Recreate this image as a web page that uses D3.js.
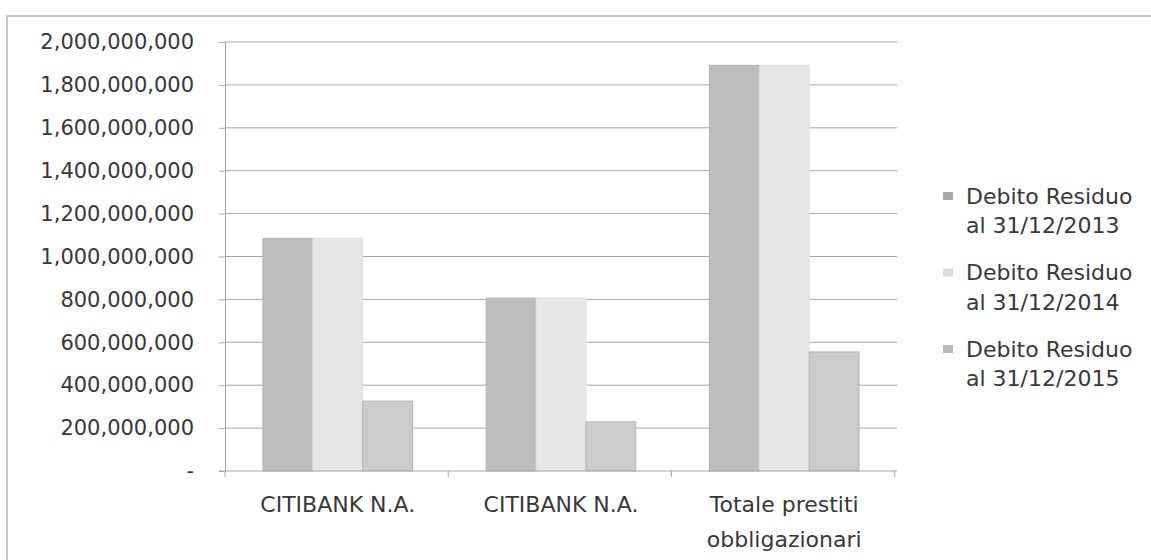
<!DOCTYPE html>
<html>
<head>
<meta charset="utf-8">
<script src="https://cdn.jsdelivr.net/npm/d3@7"></script>
<style>
  body { margin: 0; background: #fff; }
  text { font-family: 'DejaVu Sans', sans-serif; fill: #383838; }
</style>
</head>
<body>
<script>
const width = 1151
const height = 560
const margin = { top: 42, right: 254, bottom: 89, left: 225 }

const categories = [['CITIBANK N.A.'], ['CITIBANK N.A.'], ['Totale prestiti', 'obbligazionari']]
const seriesNames = [['Debito Residuo', 'al 31/12/2013'], ['Debito Residuo', 'al 31/12/2014'], ['Debito Residuo', 'al 31/12/2015']]
const debito2013 = [1085000000, 806000000, 1891000000]
const debito2014 = [1085000000, 806000000, 1891000000]
const debito2015 = [326000000, 229000000, 555000000]
const yTicks = [0, 200000000, 400000000, 600000000, 800000000, 1000000000, 1200000000, 1400000000, 1600000000, 1800000000, 2000000000]

const values = [debito2013, debito2014, debito2015]
const fills = ['#bdbdbd', '#e7e7e7', '#cbcbcb']
const strokes = ['#b3b3b3', '#dedede', '#b5b5b5']
const markerFills = ['#a9a9a9', '#dcdcdc', '#bababa']

const svg = d3.select('body')
	.append('svg')
	.attr('width', width)
	.attr('height', height)

// scanned frame
svg.append('rect')
	.attr('x', 7)
	.attr('y', 16)
	.attr('width', width + 20)
	.attr('height', height + 20)
	.attr('fill', 'none')
	.attr('stroke', '#b8b8b8')
	.attr('stroke-width', 1.5)

const xScale = d3.scaleBand()
	.domain(d3.range(categories.length))
	.range([margin.left, width - margin.right])
	.paddingInner(0.33)
	.paddingOuter(0.17)

const xInner = d3.scaleBand()
	.domain(d3.range(values.length))
	.range([0, xScale.bandwidth()])

const yScale = d3.scaleLinear()
	.domain([0, 2000000000])
	.range([height - margin.bottom, margin.top])

// gridlines
svg.append('g')
	.selectAll('line')
	.data(yTicks.slice(1))
	.enter()
	.append('line')
	.attr('x1', margin.left)
	.attr('x2', width - margin.right)
	.attr('y1', d => yScale(d))
	.attr('y2', d => yScale(d))
	.attr('stroke', '#a8a8a8')
	.attr('stroke-width', 1)

const fmt = d3.format(',')

const yAxis = d3.axisLeft(yScale)
	.tickValues(yTicks)
	.tickSize(6)
	.tickPadding(25)
	.tickFormat(d => d === 0 ? '-' : fmt(d))

const yg = svg.append('g')
	.attr('transform', `translate(${margin.left},0)`)
	.call(yAxis)
yg.select('.domain').attr('stroke', '#a8a8a8')
yg.selectAll('.tick line').attr('stroke', '#a8a8a8')
yg.selectAll('.tick text')
	.style('font-size', '21px')
	.attr('fill', '#383838')

// bars
values.forEach((series, s) => {
	svg.append('g')
		.selectAll('rect')
		.data(series)
		.enter()
		.append('rect')
		.attr('x', (d, i) => xScale(i) + xInner(s))
		.attr('y', d => yScale(d))
		.attr('width', xInner.bandwidth())
		.attr('height', d => yScale(0) - yScale(d))
		.attr('fill', fills[s])
		.attr('stroke', strokes[s])
		.attr('stroke-width', 1)
})

// category axis
const step = xScale.step()
const x0 = xScale.range()[0]
const base = yScale(0)
svg.append('line')
	.attr('x1', x0 - 6)
	.attr('x2', xScale.range()[1])
	.attr('y1', base)
	.attr('y2', base)
	.attr('stroke', '#a8a8a8')

svg.append('g')
	.selectAll('line')
	.data(d3.range(categories.length + 1))
	.enter()
	.append('line')
	.attr('x1', i => x0 + i * step)
	.attr('x2', i => x0 + i * step)
	.attr('y1', base)
	.attr('y2', base + 6)
	.attr('stroke', '#a8a8a8')

const labels = svg.append('g')
	.selectAll('text')
	.data(categories)
	.enter()
	.append('text')
	.attr('x', (d, i) => xScale(i) + xScale.bandwidth() / 2)
	.attr('y', base + 41)
	.attr('text-anchor', 'middle')
	.style('font-size', '22px')

labels.selectAll('tspan')
	.data(d => d)
	.enter()
	.append('tspan')
	.attr('x', function () { return this.parentNode.getAttribute('x') })
	.attr('dy', (d, i) => i === 0 ? 0 : 35)
	.text(d => d)

// legend
const legend = svg.selectAll('.legend')
	.data(seriesNames)
	.enter()
	.append('g')
	.attr('class', 'legend')
	.attr('transform', (d, i) => `translate(943,${196 + i * 76.5})`)

legend.append('rect')
	.attr('x', 0)
	.attr('y', -4)
	.attr('width', 10)
	.attr('height', 8)
	.attr('fill', (d, i) => markerFills[i])

legend.append('text')
	.attr('x', 23)
	.attr('y', 0)
	.style('font-size', '22px')
	.selectAll('tspan')
	.data(d => d)
	.enter()
	.append('tspan')
	.attr('x', 23)
	.attr('dy', (d, i) => i === 0 ? '0.36em' : '1.34em')
	.text(d => d)
</script>
</body>
</html>
